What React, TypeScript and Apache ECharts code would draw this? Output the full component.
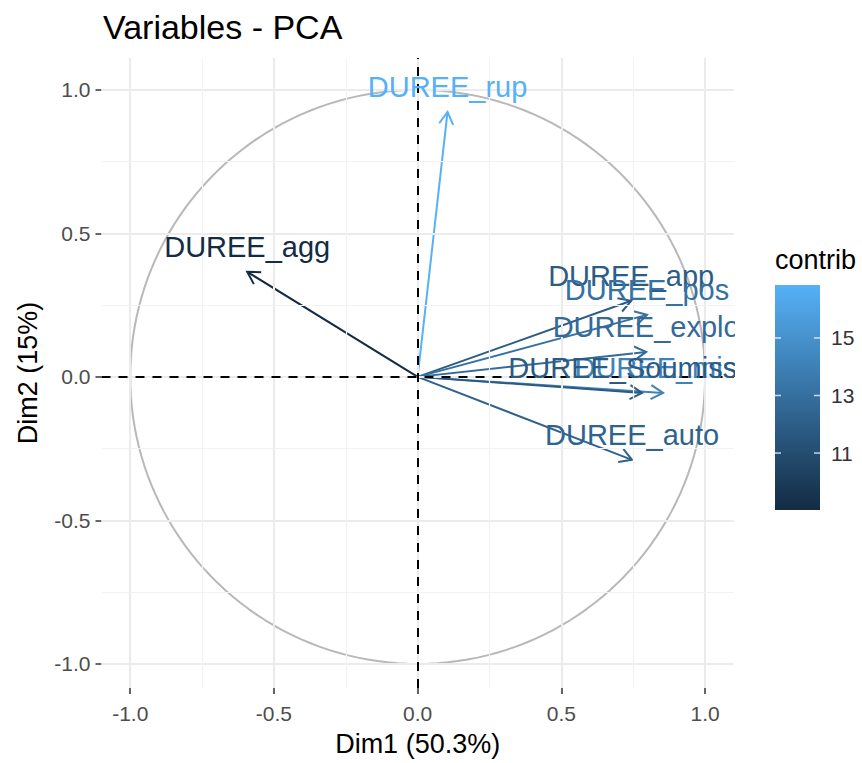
import React, { useEffect, useRef } from "react";
import * as echarts from "echarts";

const varNames = [
  "DUREE_rup",
  "DUREE_agg",
  "DUREE_app",
  "DUREE_pos",
  "DUREE_explo",
  "DUREE_miss",
  "DUREE_Soumission",
  "DUREE_auto",
];
const dim1 = [0.104, -0.593, 0.743, 0.798, 0.795, 0.854, 0.781, 0.746];
const dim2 = [0.923, 0.366, 0.265, 0.216, 0.087, -0.056, -0.056, -0.289];
const contrib = [16.84, 9.02, 11.9, 13.1, 12.7, 14.1, 11.8, 12.3];

const majorTicks = [-1, -0.5, 0, 0.5, 1];
const minorTicks = [-0.75, -0.25, 0.25, 0.75];
const legendTicks = [11, 13, 15];

const FONT = '"Liberation Sans", Arial, sans-serif';
const LOW = "#132B43";
const HIGH = "#56B1F7";

export default function App() {
  const ref = useRef<HTMLDivElement>(null);

  useEffect(() => {
    document.body.style.margin = "0";
    const chart = echarts.init(ref.current!, null, { renderer: "svg" });

    const cMin = Math.min(...contrib);
    const cMax = Math.max(...contrib);
    const data = varNames.map((n, i) => [dim1[i], dim2[i], contrib[i], n]);

    const circle: number[][] = [];
    for (let a = 0; a <= 360; a += 2) {
      circle.push([Math.cos((a * Math.PI) / 180), Math.sin((a * Math.PI) / 180)]);
    }

    const gridLeft = 101.5;
    const gridRight = 862 - 733.8;
    const gridTop = 58;
    const gridBottom = 763 - 688;

    const barX = 775, barY = 285, barW = 45, barH = 225;
    const vy = (v: number) => barY + barH - ((v - cMin) / (cMax - cMin)) * barH;
    const legendGraphics: any[] = [
      {
        type: "text",
        left: 775,
        top: 246,
        style: { text: "contrib", fontSize: 27, fontFamily: FONT, fill: "#000" },
      },
      {
        type: "rect",
        shape: { x: barX, y: barY, width: barW, height: barH },
        style: {
          fill: new echarts.graphic.LinearGradient(0, 1, 0, 0, [
            { offset: 0, color: LOW },
            { offset: 1, color: HIGH },
          ]),
        },
      },
    ];
    legendTicks.forEach((t) => {
      const y = vy(t);
      legendGraphics.push(
        { type: "line", shape: { x1: barX, y1: y, x2: barX + 6, y2: y }, style: { stroke: "rgba(255,255,255,0.75)", lineWidth: 1.5 } },
        { type: "line", shape: { x1: barX + barW - 6, y1: y, x2: barX + barW, y2: y }, style: { stroke: "rgba(255,255,255,0.75)", lineWidth: 1.5 } },
        {
          type: "text",
          x: 831,
          y: y,
          style: { text: String(t), fontSize: 21, fontFamily: FONT, fill: "#333", verticalAlign: "middle", align: "left" },
        }
      );
    });

    const lineMarks = [
      ...majorTicks.map((v) => ({ xAxis: v, lineStyle: { color: "#EBEBEB", width: 2, type: "solid" } })),
      ...majorTicks.map((v) => ({ yAxis: v, lineStyle: { color: "#EBEBEB", width: 2, type: "solid" } })),
      ...minorTicks.map((v) => ({ xAxis: v, lineStyle: { color: "#F2F2F2", width: 1.2, type: "solid" } })),
      ...minorTicks.map((v) => ({ yAxis: v, lineStyle: { color: "#F2F2F2", width: 1.2, type: "solid" } })),
    ];

    const option: any = {
      animation: false,
      backgroundColor: "#fff",
      title: {
        text: "Variables - PCA",
        left: 98,
        top: 5,
        textStyle: { fontSize: 34, fontWeight: "normal", color: "#000", fontFamily: FONT },
      },
      grid: { left: gridLeft, right: gridRight, top: gridTop, bottom: gridBottom },
      xAxis: {
        type: "value",
        min: -1.1,
        max: 1.1,
        name: "Dim1 (50.3%)",
        nameLocation: "middle",
        nameGap: 42,
        nameTextStyle: { fontSize: 27, color: "#000", fontFamily: FONT },
        axisLine: { show: false, onZero: false },
        axisTick: { show: true, length: 6, customValues: majorTicks, lineStyle: { color: "#333", width: 1.5 } },
        axisLabel: {
          customValues: majorTicks,
          formatter: (v: number) => v.toFixed(1),
          fontSize: 21,
          color: "#4D4D4D",
          fontFamily: FONT,
          margin: 15,
        },
        splitLine: { show: false },
      },
      yAxis: {
        type: "value",
        min: -1.084,
        max: 1.111,
        name: "Dim2 (15%)",
        nameLocation: "middle",
        nameGap: 60,
        nameTextStyle: { fontSize: 27, color: "#000", fontFamily: FONT },
        axisLine: { show: false, onZero: false },
        axisTick: { show: true, length: 6, customValues: majorTicks, lineStyle: { color: "#333", width: 1.5 } },
        axisLabel: {
          customValues: majorTicks,
          formatter: (v: number) => v.toFixed(1),
          fontSize: 21,
          color: "#4D4D4D",
          fontFamily: FONT,
          margin: 11,
        },
        splitLine: { show: false },
      },
      visualMap: {
        type: "continuous",
        show: false,
        min: cMin,
        max: cMax,
        dimension: 2,
        seriesIndex: [3, 4],
        inRange: { color: [LOW, HIGH] },
      },
      graphic: legendGraphics,
      series: [
        {
          type: "line",
          data: [],
          symbol: "none",
          z: 1,
          silent: true,
          markLine: {
            silent: true,
            symbol: ["none", "none"],
            label: { show: false },
            data: lineMarks,
          },
        },
        {
          type: "line",
          data: circle,
          symbol: "none",
          z: 2,
          silent: true,
          lineStyle: { color: "#B8B8B8", width: 2 },
        },
        {
          type: "line",
          data: [],
          symbol: "none",
          z: 3,
          silent: true,
          markLine: {
            silent: true,
            symbol: ["none", "none"],
            label: { show: false },
            lineStyle: { color: "#000", width: 2, type: [9, 8] },
            data: [{ xAxis: 0 }, { yAxis: 0 }],
          },
        },
        {
          type: "custom",
          z: 4,
          data,
          dimensions: ["x", "y", "contrib", "name"],
          encode: { x: 0, y: 1 },
          renderItem: (params: any, api: any) => {
            const p0 = api.coord([0, 0]);
            const p1 = api.coord([api.value(0), api.value(1)]);
            const color = api.visual("color");
            const ang = Math.atan2(p1[1] - p0[1], p1[0] - p0[0]);
            const L = 14, a = Math.PI / 6;
            const h1 = [p1[0] - L * Math.cos(ang - a), p1[1] - L * Math.sin(ang - a)];
            const h2 = [p1[0] - L * Math.cos(ang + a), p1[1] - L * Math.sin(ang + a)];
            return {
              type: "group",
              children: [
                { type: "line", shape: { x1: p0[0], y1: p0[1], x2: p1[0], y2: p1[1] }, style: { stroke: color, lineWidth: 2 } },
                { type: "polyline", shape: { points: [h1, p1, h2] }, style: { stroke: color, lineWidth: 2, fill: "none" } },
              ],
            };
          },
        },
        {
          type: "custom",
          z: 5,
          clip: true,
          data,
          dimensions: ["x", "y", "contrib", "name"],
          encode: { x: 0, y: 1 },
          renderItem: (params: any, api: any) => {
            const p1 = api.coord([api.value(0), api.value(1)]);
            const color = api.visual("color");
            return {
              type: "text",
              x: p1[0],
              y: p1[1] - 25,
              style: {
                text: varNames[params.dataIndex],
                fill: color,
                fontSize: 29,
                fontFamily: FONT,
                align: "center",
                verticalAlign: "middle",
              },
            };
          },
        },
      ],
    };

    chart.setOption(option);
    return () => chart.dispose();
  }, []);

  return <div ref={ref} style={{ position: "fixed", left: 0, top: 0, width: 862, height: 763 }} />;
}
